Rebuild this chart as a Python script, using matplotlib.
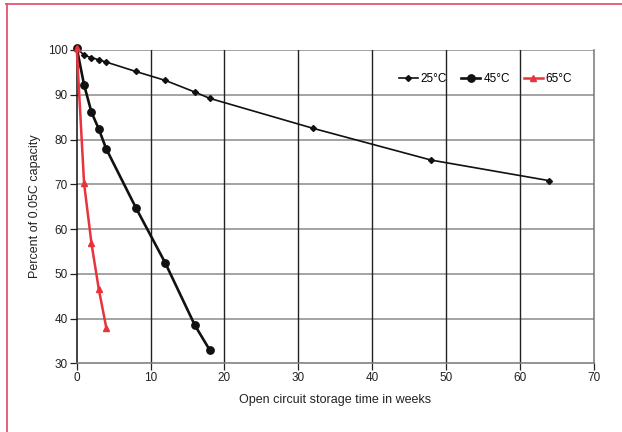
import matplotlib
matplotlib.use("Agg")
import matplotlib.pyplot as plt
from matplotlib.lines import Line2D

plt.rcParams['font.family'] = ['Liberation Sans', 'DejaVu Sans']

x25 = [0, 1, 2, 3, 4, 8, 12, 16, 18, 32, 48, 64]
y25 = [100.5, 98.8, 98.3, 97.8, 97.3, 95.2, 93.2, 90.6, 89.2, 82.5, 75.4, 70.8]
x45 = [0, 1, 2, 3, 4, 8, 12, 16, 18]
y45 = [100.5, 92.2, 86.1, 82.3, 77.9, 64.8, 52.4, 38.5, 33.0]
x65 = [0, 1, 2, 3, 4]
y65 = [100.5, 70.2, 56.8, 46.5, 38.0]
labels = ['25°C', '45°C', '65°C']
xticks = [0, 10, 20, 30, 40, 50, 60, 70]
yticks = [30, 40, 50, 60, 70, 80, 90, 100]

fig = plt.figure(figsize=(6.22, 4.32), dpi=100)
ax = fig.add_axes([0.1233, 0.159, 0.8312, 0.7253])
ax.set_xlim(0, 70)
ax.set_ylim(30, 100)

for v in yticks[1:]:
    ax.axhline(v, color='#8a8a8a', lw=1.1, zorder=1)
for v in xticks[1:-1]:
    ax.axvline(v, color='#222222', lw=1.0, zorder=1)

red = '#e8323c'
ax.plot(x25, y25, color='#111111', lw=1.2, marker='D', ms=3.0, label=labels[0], zorder=3, clip_on=False)
ax.plot(x45, y45, color='#111111', lw=1.9, marker='o', ms=5.3, label=labels[1], zorder=3, clip_on=False)
ax.plot(x65, y65, color=red, lw=1.8, marker='^', ms=4.5, label=labels[2], zorder=4, clip_on=False)

ax.set_xticks(xticks)
ax.set_yticks(yticks)
ax.tick_params(axis='both', labelsize=8.5, colors='#222222', length=5, width=0.9, pad=1.5)
ax.spines['left'].set_color('#111111')
ax.spines['bottom'].set_color('#777777')
ax.spines['right'].set_color('#777777')
ax.spines['top'].set_visible(False)
for s in ax.spines.values():
    s.set_linewidth(1.1)

ax.set_xlabel('Open circuit storage time in weeks', fontsize=9, color='#222222', labelpad=7)
ax.set_ylabel('Percent of 0.05C capacity', fontsize=9, color='#222222', labelpad=5)

leg = ax.legend(loc='center', bbox_to_anchor=(0.791, 0.907), ncol=3, frameon=False,
                fontsize=8.5, handlelength=1.6, handletextpad=0.25, columnspacing=1.2,
                borderaxespad=0, borderpad=0)

frame_color = '#e0566e'
fig.add_artist(Line2D([6/622, 1], [1 - 4/432, 1 - 4/432], transform=fig.transFigure, color=frame_color, lw=1.3))
fig.add_artist(Line2D([7/622, 7/622], [0, 1 - 4/432], transform=fig.transFigure, color=frame_color, lw=1.3))

fig.savefig('out.png', dpi=100)
